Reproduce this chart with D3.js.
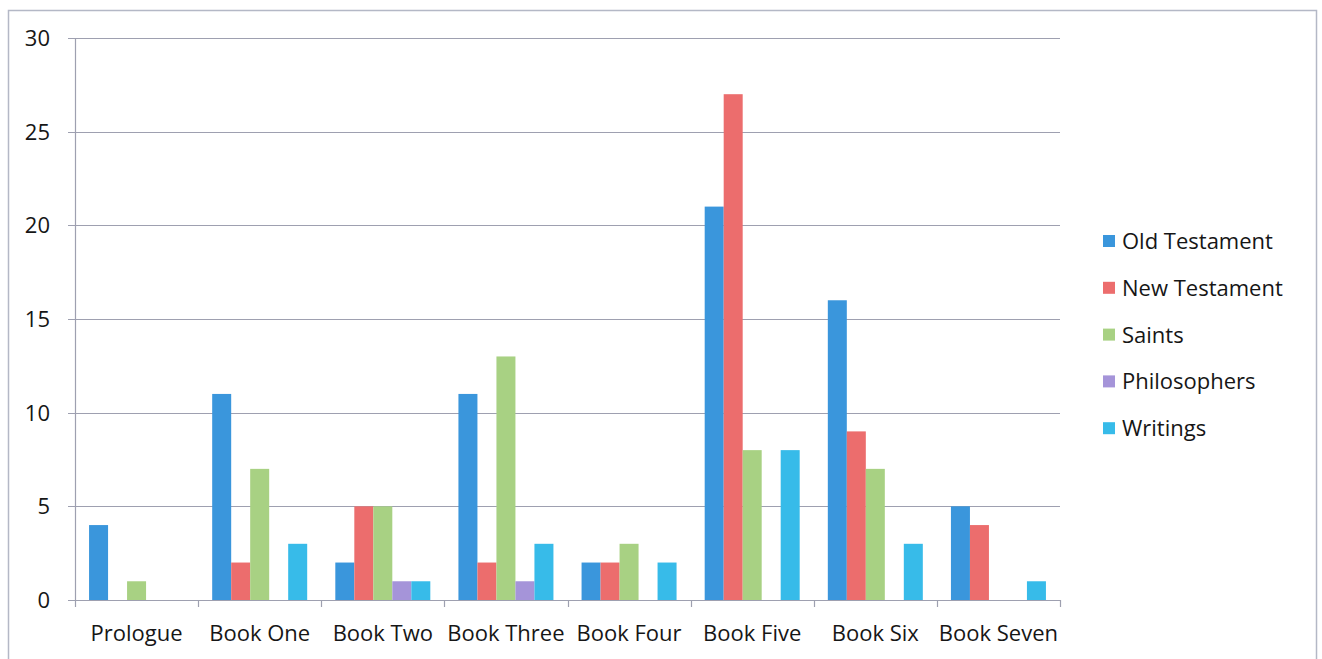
<!DOCTYPE html>
<html>
<head>
<meta charset="utf-8">
<script src="https://cdn.jsdelivr.net/npm/d3@7"></script>
<style>
  body { margin: 0; background: #ffffff; }
  text { font-family: "Open Sans", "Noto Sans", sans-serif; fill: #161616; }
</style>
</head>
<body>
<script>
var WIDTH = 1322, HEIGHT = 659;

var categories = ["Prologue", "Book One", "Book Two", "Book Three", "Book Four", "Book Five", "Book Six", "Book Seven"];
var seriesNames = ["Old Testament", "New Testament", "Saints", "Philosophers", "Writings"];
var seriesColors = ["#3a96dc", "#ec6d6d", "#a8d183", "#a594d9", "#37bbe9"];

var oldTestament = [4, 11, 2, 11, 2, 21, 16, 5];
var newTestament = [0, 2, 5, 2, 2, 27, 9, 4];
var saints = [1, 7, 5, 13, 3, 8, 7, 0];
var philosophers = [0, 0, 1, 1, 0, 0, 0, 0];
var writings = [0, 3, 1, 3, 2, 8, 3, 1];
var yTicks = [0, 5, 10, 15, 20, 25, 30];

var seriesValues = [oldTestament, newTestament, saints, philosophers, writings];

var margin = {left: 75, right: 262, top: 38, bottom: 59};

var svg = d3.select("body").append("svg")
            .attr("width", WIDTH)
            .attr("height", HEIGHT);

// outer frame
svg.append("rect")
   .attr("x", 8.5).attr("y", 10.5)
   .attr("width", 1308).attr("height", 660)
   .style("fill", "none")
   .style("stroke", "#b4b8c6")
   .style("stroke-width", 1.5);

var x0 = d3.scaleBand()
           .domain(categories)
           .range([margin.left, WIDTH - margin.right])
           .paddingInner(0)
           .paddingOuter(0);

var x1 = d3.scaleBand()
           .domain(d3.range(seriesNames.length))
           .range([0, x0.bandwidth()])
           .paddingOuter(0.74)
           .paddingInner(0);

var y = d3.scaleLinear()
          .domain([0, 30])
          .range([HEIGHT - margin.bottom, margin.top]);

// gridlines
svg.append("g")
   .selectAll("line")
   .data(yTicks)
   .join("line")
   .attr("x1", margin.left - 7)
   .attr("x2", WIDTH - margin.right)
   .attr("y1", d => Math.round(y(d)) + 0.5)
   .attr("y2", d => Math.round(y(d)) + 0.5)
   .style("stroke", "#9ea0b0")
   .style("stroke-width", 1.2);

// y axis line
svg.append("line")
   .attr("x1", margin.left + 0.5).attr("x2", margin.left + 0.5)
   .attr("y1", y(30)).attr("y2", y(0))
   .style("stroke", "#9ea0b0")
   .style("stroke-width", 1.2);

// y labels
svg.append("g")
   .selectAll("text")
   .data(yTicks)
   .join("text")
   .attr("x", 50)
   .attr("y", d => y(d) + 8)
   .attr("text-anchor", "end")
   .style("font-size", "22px")
   .text(d => d);

// category tick marks
var boundaries = categories.map(c => x0(c)).concat([x0(categories[categories.length - 1]) + x0.bandwidth()]);
svg.append("g")
   .selectAll("line")
   .data(boundaries)
   .join("line")
   .attr("x1", d => Math.round(d) + 0.5)
   .attr("x2", d => Math.round(d) + 0.5)
   .attr("y1", y(0))
   .attr("y2", y(0) + 7)
   .style("stroke", "#9ea0b0")
   .style("stroke-width", 1.2);

// bars
var groups = svg.append("g")
   .selectAll("g")
   .data(categories)
   .join("g")
   .attr("transform", c => "translate(" + x0(c) + ",0)");

groups.selectAll("rect")
   .data((c, ci) => seriesValues.map((vals, si) => ({si: si, v: vals[ci]})))
   .join("rect")
   .attr("x", d => x1(d.si))
   .attr("width", x1.bandwidth())
   .attr("y", d => y(d.v))
   .attr("height", d => y(0) - y(d.v))
   .style("fill", d => seriesColors[d.si]);

// x labels
svg.append("g")
   .selectAll("text")
   .data(categories)
   .join("text")
   .attr("x", c => x0(c) + x0.bandwidth() / 2)
   .attr("y", 641)
   .attr("text-anchor", "middle")
   .style("font-size", "22px")
   .text(c => c);

// legend
var legend = svg.append("g")
   .selectAll("g")
   .data(seriesNames)
   .join("g")
   .attr("transform", (d, i) => "translate(1103," + (241 + i * 46.8) + ")");

legend.append("rect")
   .attr("x", 0).attr("y", -6)
   .attr("width", 12).attr("height", 12)
   .style("fill", (d, i) => seriesColors[i]);

legend.append("text")
   .attr("x", 19)
   .attr("y", 8)
   .style("font-size", "22px")
   .text(d => d);
</script>
</body>
</html>
